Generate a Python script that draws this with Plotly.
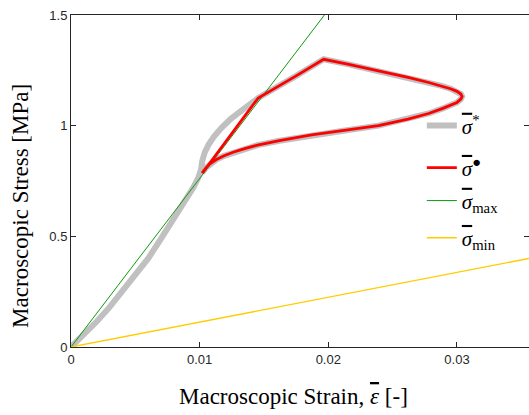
import plotly.graph_objects as go

# sigma* (gray): loading branch then the loop
star_eps = [0, 0.001, 0.002, 0.003, 0.004, 0.005, 0.006, 0.007, 0.008, 0.009, 0.0095,
            0.0099, 0.0101, 0.0102, 0.0104, 0.0107, 0.0111, 0.0117, 0.0124, 0.0133,
            0.01455, 0.0175, 0.01964,
            0.0215, 0.0239, 0.0262, 0.0278, 0.0288, 0.0295, 0.0300, 0.0303, 0.0304,
            0.0303, 0.0300, 0.0296, 0.0289, 0.0278, 0.0262, 0.0239, 0.0213, 0.0187,
            0.0162, 0.0145, 0.0135, 0.0126, 0.0119, 0.0113, 0.0108, 0.0105, 0.0102]
star_sig = [0, 0.055, 0.115, 0.18, 0.25, 0.32, 0.40, 0.49, 0.58, 0.67, 0.72,
            0.765, 0.80, 0.84, 0.88, 0.915, 0.95, 0.99, 1.03, 1.07,
            1.125, 1.225, 1.30,
            1.278, 1.248, 1.218, 1.195, 1.180, 1.167, 1.155, 1.143, 1.132,
            1.120, 1.105, 1.094, 1.078, 1.055, 1.030, 1.000, 0.978, 0.958,
            0.932, 0.912, 0.896, 0.880, 0.864, 0.847, 0.828, 0.810, 0.787]

# sigma bullet (red)
dot_eps = [0.0102, 0.01455, 0.0175, 0.01964,
           0.0215, 0.0239, 0.0262, 0.0278, 0.0288, 0.0295, 0.0300, 0.0303, 0.0304,
           0.0303, 0.0300, 0.0296, 0.0289, 0.0278, 0.0262, 0.0239, 0.0213, 0.0187,
           0.0162, 0.0145, 0.0135, 0.0126, 0.0119, 0.0113, 0.0108, 0.0105, 0.0102]
dot_sig = [0.785, 1.125, 1.225, 1.30,
           1.278, 1.248, 1.218, 1.195, 1.180, 1.167, 1.155, 1.143, 1.132,
           1.120, 1.105, 1.094, 1.078, 1.055, 1.030, 1.000, 0.978, 0.958,
           0.932, 0.912, 0.896, 0.880, 0.864, 0.847, 0.828, 0.810, 0.787]

# bounds
max_eps = [0, 0.0197]
max_sig = [0, 1.5]
min_eps = [0, 0.0356]
min_sig = [0, 0.40]

x_ticks = [0, 0.01, 0.02, 0.03]
x_labels = ["0", "0.01", "0.02", "0.03"]
y_ticks = [0, 0.5, 1, 1.5]
y_labels = ["0", "0.5", "1", "1.5"]

SERIF = "Liberation Serif, DejaVu Serif, serif"
SANS = "Liberation Sans, Arial, sans-serif"
AX = "#262626"
SIG = "<span style='text-decoration:overline'><i>σ</i></span>"

fig = go.Figure()
fig.add_trace(go.Scatter(x=star_eps, y=star_sig, mode="lines",
                         line=dict(color="#c0c0c0", width=6),
                         name=SIG + "<sup>*</sup>", legend="legend"))
fig.add_trace(go.Scatter(x=max_eps, y=max_sig, mode="lines",
                         line=dict(color="#119911", width=1),
                         name=SIG + "<sub>max</sub>", legend="legend3"))
fig.add_trace(go.Scatter(x=min_eps, y=min_sig, mode="lines",
                         line=dict(color="#ffcc00", width=1.3),
                         name=SIG + "<sub>min</sub>", legend="legend4"))
fig.add_trace(go.Scatter(x=dot_eps, y=dot_sig, mode="lines",
                         line=dict(color="#ff0000", width=2.8),
                         name=SIG + "<sup>●</sup>", legend="legend2"))
# invisible trace for right-side mirrored ticks
fig.add_trace(go.Scatter(x=[None], y=[None], yaxis="y2", showlegend=False))

def leg(ypos):
    return dict(x=0.766, y=ypos, xanchor="left", yanchor="middle",
                bgcolor="rgba(0,0,0,0)", borderwidth=0,
                font=dict(family=SERIF, size=21, color="black"))

fig.update_layout(
    width=529, height=415,
    margin=dict(l=71, r=0, t=15, b=68),
    paper_bgcolor="white", plot_bgcolor="white",
    showlegend=True,
    legend=leg(0.666), legend2=leg(0.539), legend3=leg(0.44), legend4=leg(0.328),
    xaxis=dict(range=[0, 0.0356], tickvals=x_ticks, ticktext=x_labels,
               showgrid=False, zeroline=False, showline=True, linecolor=AX,
               linewidth=1, mirror="ticks", ticks="inside", ticklen=5, automargin=False,
               tickcolor=AX, tickfont=dict(family=SANS, size=13, color=AX)),
    yaxis=dict(range=[0, 1.5], tickvals=y_ticks, ticktext=y_labels, automargin=False,
               showgrid=False, zeroline=False, showline=True, linecolor=AX,
               linewidth=1, ticks="inside", ticklen=5, tickcolor=AX,
               tickfont=dict(family=SANS, size=13, color=AX)),
    yaxis2=dict(range=[0, 1.5], tickvals=y_ticks, overlaying="y", side="right",
                showgrid=False, zeroline=False, showline=False, ticks="inside",
                ticklen=5, tickcolor=AX, showticklabels=False, automargin=False),
    annotations=[
        dict(text="Macroscopic Strain, <span style='text-decoration:overline'><i>ε</i></span> [-]",
             xref="paper", yref="paper",
             x=0.485, y=0, yshift=-49, xanchor="center", yanchor="middle",
             showarrow=False, font=dict(family=SERIF, size=23, color="black")),
        dict(text="Macroscopic Stress [MPa]", xref="paper", yref="paper",
             x=0, y=0.425, xshift=-50, xanchor="center", yanchor="middle",
             textangle=-90, showarrow=False,
             font=dict(family=SERIF, size=23, color="black")),
    ],
)

fig.write_html("out.html", config={"displayModeBar": False},
               post_script="document.body.style.margin='0';document.body.style.overflow='hidden';")
